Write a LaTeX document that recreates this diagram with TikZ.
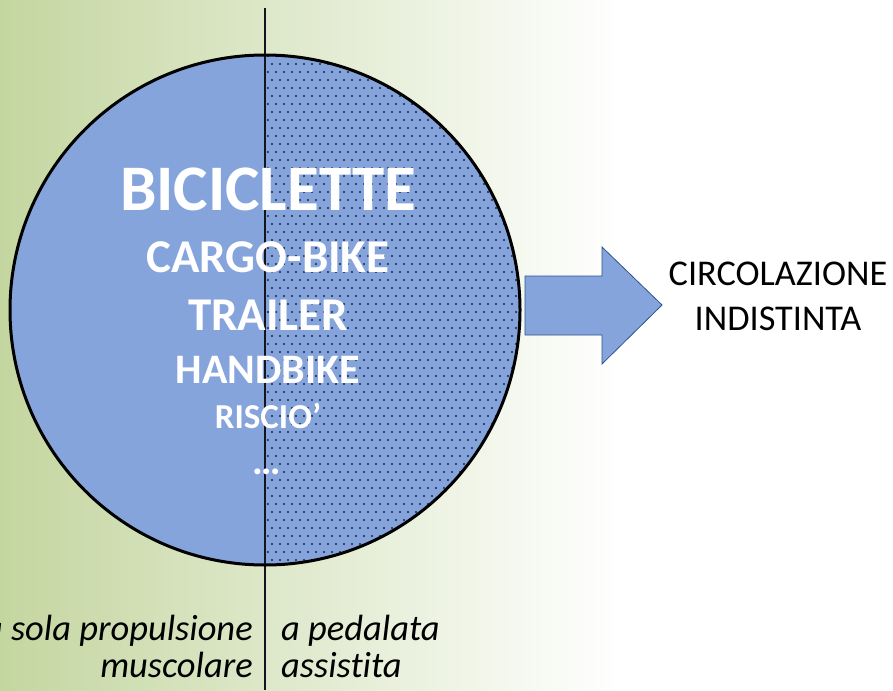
\documentclass[tikz,border=0pt]{standalone}
\usepackage{fontspec}
\setmainfont{Carlito}[Ligatures={NoCommon}]
\definecolor{bgreen}{RGB}{196,214,160}
\definecolor{cblue}{RGB}{133,164,220}
\definecolor{dotc}{RGB}{28,36,64}
\definecolor{arrowline}{RGB}{47,82,143}
\definecolor{linec}{RGB}{20,20,30}
\tikzset{
  intext/.style={anchor=base, inner sep=0pt, text=white, font=\bfseries\fontsize{#1}{#1}\selectfont},
  outtext/.style={anchor=base, inner sep=0pt, text=black, font=\fontsize{36.3}{36.3}\selectfont},
  captext/.style={inner sep=0pt, text=black, font=\itshape\fontsize{36.5}{36.5}\selectfont},
}
\begin{document}
\begin{tikzpicture}[x=1pt,y=-1pt]
\useasboundingbox (0,0) rectangle (893,690);
% background gradient
\fill[white] (0,0) rectangle (893,690);
\shade[left color=bgreen, right color=white] (0,0) rectangle (620,690);
% circle
\node[circle, minimum size=510pt, inner sep=0pt, fill=cblue] (c) at (265,310) {};
% dotted right half
\begin{scope}
  \clip (265,0) rectangle (540,700);
  \clip (265,310) circle (255pt);
  \foreach \j [evaluate=\j as \yy using {56+\j*8}, evaluate=\j as \off using {mod(\j,2)*4}] in {0,...,64}{
    \foreach \i in {0,...,33}{
      \fill[dotc] ({268+\i*8+\off},\yy) circle (1.05pt);
    }
  }
\end{scope}
% vertical divider
\coordinate (top) at (265,8);
\coordinate (bot) at (265,690);
\draw[linec, line width=2pt] (top) -- (bot);
% circle outline
\draw[black, line width=3pt] (265,310) circle (255pt);
% texts inside
\node[intext=65] (t1) at (268,210) {BICICLETTE};
\node[intext=47] (t2) at (268,272) {CARGO-BIKE};
\node[intext=47] (t3) at (268,330) {TRAILER};
\node[intext=42] (t4) at (268,383) {HANDBIKE};
\node[intext=35] (t5) at (268,428) {RISCIO’};
\node[intext=40] (t6) at (267,474) {…};
% arrow
\draw[arrowline, fill=cblue, line width=0.8pt, line join=miter]
  (525,276) -- (602,276) -- (602,247) -- (662,305) -- (602,364) -- (602,335) -- (525,335) -- cycle;
% right text
\node[outtext] (r1) at (778,285) {CIRCOLAZIONE};
\node[outtext] (r2) at (778,330) {INDISTINTA};
% bottom captions
\node[captext, anchor=base east] (b1) at (253,640) {a sola propulsione};
\node[captext, anchor=base east] (b2) at (253,677) {muscolare};
\node[captext, anchor=base west] (b3) at (281,640) {a pedalata};
\node[captext, anchor=base west] (b4) at (281,677) {assistita};
\end{tikzpicture}
\end{document}
